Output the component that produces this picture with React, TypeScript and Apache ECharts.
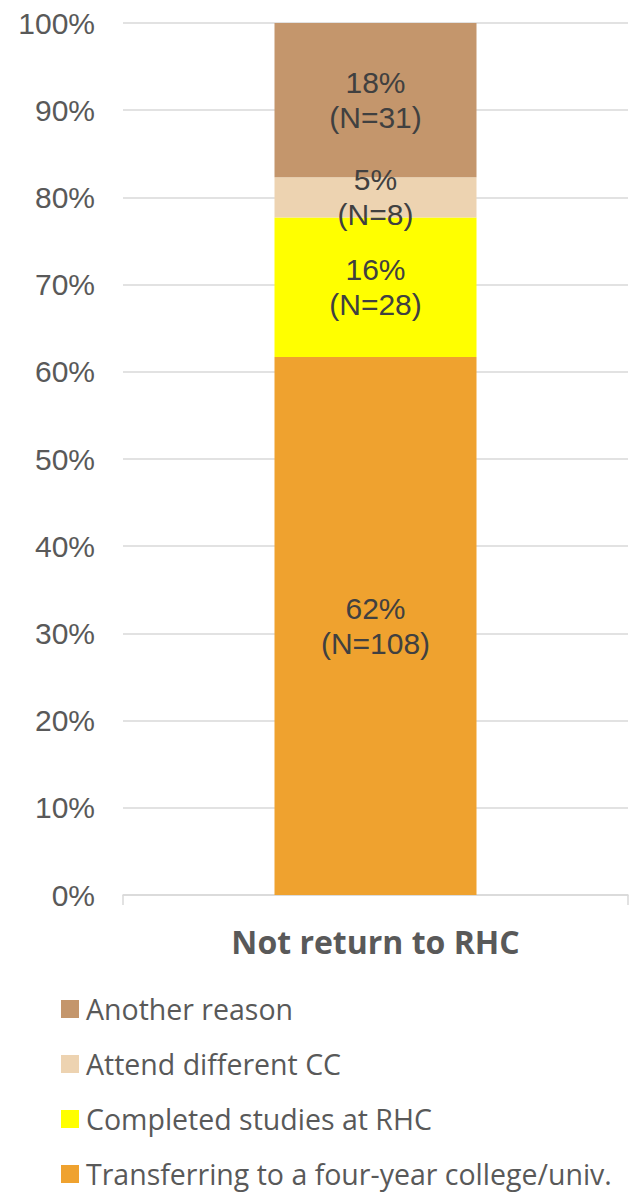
import React, { useEffect, useRef } from "react";
import * as echarts from "echarts";

const categories = ["Not return to RHC"];
const seriesNames = [
  "Transferring to a four-year college/univ.",
  "Completed studies at RHC",
  "Attend different CC",
  "Another reason",
];
const seriesValues = [61.7, 16.0, 4.6, 17.7];
const seriesLabels = ["62%", "16%", "5%", "18%"];
const seriesCounts = [108, 28, 8, 31];
const seriesColors = ["#EFA22F", "#FFFF00", "#EDD3B1", "#C4966C"];
const legendOrder = [
  "Another reason",
  "Attend different CC",
  "Completed studies at RHC",
  "Transferring to a four-year college/univ.",
];

export default function App() {
  const ref = useRef<HTMLDivElement>(null);
  useEffect(() => {
    if (!ref.current) return;
    const chart = echarts.init(ref.current, null, { renderer: "svg" });
    chart.setOption({
      animation: false,
      grid: { left: 123, right: 13, top: 23, bottom: 302 },
      legend: {
        data: legendOrder,
        orient: "vertical",
        left: 61,
        top: 994,
        padding: 0,
        itemWidth: 18,
        itemHeight: 18,
        itemGap: 25,
        icon: "rect",
        textStyle: {
          fontFamily: "Open Sans",
          fontSize: 28.5,
          lineHeight: 30,
          color: "#595959",
          padding: [0, 0, 0, 2],
        },
      },
      xAxis: {
        type: "category",
        data: categories,
        axisLine: { show: true, lineStyle: { color: "#D9D9D9", width: 1.5 } },
        axisTick: { show: true, length: 10, lineStyle: { color: "#D9D9D9", width: 1.5 } },
        axisLabel: {
          fontFamily: "Open Sans",
          fontWeight: "bold",
          fontSize: 32,
          color: "#595959",
          margin: 30,
        },
      },
      yAxis: {
        type: "value",
        min: 0,
        max: 100,
        interval: 10,
        axisLine: { show: false },
        axisTick: { show: false },
        splitLine: { lineStyle: { color: "#D9D9D9", width: 1.5 } },
        axisLabel: {
          formatter: "{value}%",
          fontFamily: "Liberation Sans",
          fontSize: 30,
          color: "#595959",
          margin: 28,
        },
      },
      series: seriesNames.map((name, i) => ({
        name,
        type: "bar",
        stack: "total",
        barWidth: "40%",
        data: [seriesValues[i]],
        itemStyle: { color: seriesColors[i] },
        label: {
          show: true,
          position: "inside",
          formatter: () => `${seriesLabels[i]}\n(N=${seriesCounts[i]})`,
          fontFamily: "Liberation Sans",
          fontSize: 30,
          lineHeight: 35,
          color: "#404040",
        },
      })),
    });
    return () => chart.dispose();
  }, []);
  return (
    <div
      ref={ref}
      style={{ position: "absolute", left: 0, top: 0, width: 641, height: 1197 }}
    />
  );
}
